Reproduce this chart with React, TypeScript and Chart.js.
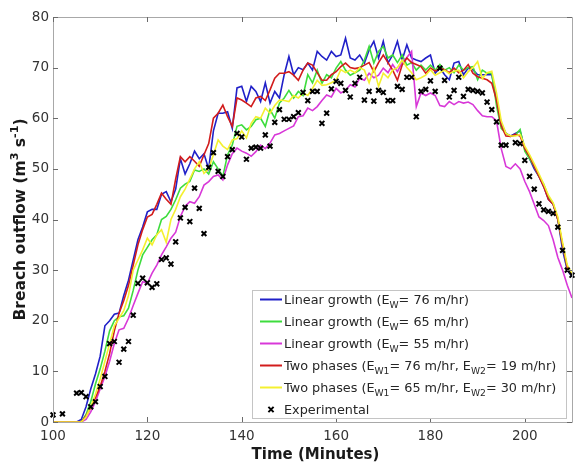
import React, { useEffect, useRef } from "react";
import { Chart, registerables } from "chart.js";
Chart.register(...registerables);

// time grid, minutes 100..210 (one sample per minute)
const times: number[] = Array.from({ length: 111 }, (_, i) => 100 + i);

const blueLinear76 = [
  0, 0, 0, 0, 0, 0, 0.5, 3, 6.5, 9.5,
  13, 19, 20, 21.3, 21.5, 25, 28, 32, 36, 38.5,
  41.5, 42, 42, 45, 45.5, 43.5, 46, 52, 49, 51,
  53.5, 52, 53, 50, 57.5, 61, 61, 61.3, 58, 66,
  66.3, 63.3, 66.3, 65.3, 63.3, 67, 63, 65.3, 64, 68.6,
  72.2, 68.6, 70, 69.6, 70.9, 69.5, 73.2, 72.2, 71.5, 73.2,
  72.2, 72.5, 75.8, 71.9, 71.5, 72.5, 70.9, 73.5, 75.2, 71.9,
  75.2, 70.9, 72.5, 75.2, 71.5, 74.5, 71.9, 71.5, 71.2, 71.9,
  72.5, 68.9, 69.9, 68.6, 67.6, 70.9, 71.2, 68.6, 69.9, 69.6,
  68.6, 68.6, 68.6, 68.6, 63.6, 59, 57, 56.5, 57, 57.5,
  54, 52, 50, 48.5, 46.5, 44, 43, 40, 34, 30, 28.7,
];

const greenLinear65 = [
  0, 0, 0, 0, 0, 0, 0, 1.5, 4, 7.5,
  10.5, 14, 18, 20, 20.8, 21, 22.5, 26, 30, 33,
  34.5, 36, 37, 40, 40.6, 42, 43.9, 46.2, 47, 47.5,
  49.8, 49.5, 50, 49, 51.4, 50, 48.5, 52.8, 54.7, 58.4,
  58.7, 57.7, 58.4, 59.7, 60, 58.4, 61.7, 60, 63, 64,
  65.5, 64, 65.3, 64.5, 68.6, 67, 69.5, 66.9, 68.6, 68,
  69.9, 71.2, 69.5, 68.5, 69, 69.5, 71.5, 74.2, 70.9, 73.2,
  74.2, 71.9, 72.5, 71, 72.5, 70.5, 71, 69.5, 70.5, 69.5,
  70.5, 69.5, 70.6, 69.5, 70, 69, 70.5, 69.5, 70, 70.2,
  67.6, 69.5, 68.9, 68.9, 62.5, 58, 57, 56.4, 56.7, 57.8,
  53.5, 52, 50.5, 48.5, 47, 44.5, 43.2, 40, 35, 30.5, 29,
];

const magentaLinear55 = [
  0, 0, 0, 0, 0, 0, 0, 0.5, 2, 4,
  6.5, 9, 12, 15.5, 18.2, 18.5, 20.5, 23, 25.4, 27.7,
  27.4, 29.4, 31, 33, 34.6, 36.3, 37.5, 40.6, 42.6, 43.5,
  43.2, 44.5, 46.8, 47.5, 48.5, 48.8, 47.8, 50.8, 53, 54.1,
  53.5, 53.1, 52.5, 53.4, 54.7, 54, 55.1, 56.7, 57, 57.5,
  58, 58.5, 60.3, 60.5, 62, 61.5, 62.3, 63.5, 64.6, 64.2,
  65.9, 65, 65.5, 66.6, 66.2, 67.9, 67.5, 68.9, 68, 68.5,
  69.9, 69, 70.6, 69.2, 71, 72, 73.2, 62.3, 65, 64.5,
  65, 64.5, 62.5, 62.3, 63.3, 62.7, 63.3, 63, 63.2, 62.7,
  61.5, 60.5, 60.3, 60.3, 59.5, 54, 50.5, 50, 51, 50,
  47.5, 45.5, 43, 40.5, 39.8, 38.8, 36, 32.5, 30, 27, 24.5,
];

const redTwoPhase76_19 = [
  0, 0, 0, 0, 0, 0, 0, 1.2, 2.8, 4.8,
  7, 10, 13.5, 18, 21.5, 24, 27, 31, 35, 38,
  40.5, 41, 43, 45.2, 44, 43, 48, 52.4, 51.4, 52.4,
  51.5, 50.5, 52.8, 55, 60, 61, 62.6, 60.3, 58.4, 64,
  63.6, 63, 62.3, 64, 64.3, 63.5, 65.6, 67.9, 68.9, 68.9,
  69.2, 68.5, 67.5, 69.5, 70.9, 70.5, 69, 67.5, 67.5, 68.6,
  69.2, 70.2, 70.9, 70, 69.8, 70, 70.5, 71, 69.2, 71,
  72.5, 71, 69.5, 67.5, 70.5, 71.9, 71, 70.6, 70.2, 68.9,
  69.9, 69.3, 69.9, 69.6, 69, 69.9, 69, 69.5, 70.6, 68.9,
  68.2, 67.9, 67.6, 66.9, 63.6, 58.5, 56.5, 56.4, 56.8, 56.5,
  54, 52.5, 50.5, 48.5, 46.5, 44, 43, 40, 35, 30.5, 29,
];

const yellowTwoPhase65_30 = [
  0, 0, 0, 0, 0, 0, 0, 1, 3, 5.5,
  8.5, 12, 15.5, 19, 20.5, 22, 25, 30, 32, 34,
  36.3, 35, 37, 38, 35.5, 40, 42, 44.5, 46, 48,
  50, 51.4, 49.1, 50, 52.8, 55.7, 54.5, 53.8, 55.7, 56,
  57.5, 56.1, 59, 60.3, 60, 62, 61, 62.5, 63.6, 63.5,
  63.3, 64.5, 64, 65, 64.5, 65.9, 67.5, 66.5, 66.6, 67,
  67.5, 69.6, 69, 69.5, 69, 70, 69.5, 67, 69.9, 66.3,
  68.9, 68, 69.5, 70, 71.5, 70, 69, 67.6, 68, 68.5,
  69.6, 68.5, 69, 69.5, 68.8, 69.3, 69.5, 68, 69.2, 70,
  71.2, 67.8, 69, 69.3, 65, 59.5, 57, 56.5, 56.5, 56.8,
  54.5, 52.8, 51, 49, 47, 44.8, 43.3, 40.5, 35.5, 31, 29.3,
];

const expTimes = [
  100, 102, 105, 106, 107, 108, 109, 110, 111, 112, 113, 114, 115, 116, 117, 118, 119, 120,
  121, 122, 123, 124, 125, 126, 127, 128, 129, 130, 131, 132, 133, 134, 135, 136, 137, 138,
  139, 140, 141, 142, 143, 144, 145, 146, 147, 148, 149, 150, 151, 152, 153, 154, 155, 156,
  157, 158, 159, 160, 161, 162, 163, 164, 165, 166, 167, 168, 169, 170, 171, 172, 173, 174,
  175, 176, 177, 178, 179, 180, 181, 182, 183, 184, 185, 186, 187, 188, 189, 190, 191, 192,
  193, 194, 195, 196, 198, 199, 200, 201, 202, 203, 204, 205, 206, 207, 208, 209, 210,
];
const expFlow = [
  1.4, 1.6, 5.7, 5.8, 5.0, 3.0, 4.0, 7.0, 9.0, 15.5, 15.9, 11.8, 14.4, 15.9, 21.1, 27.4, 28.4, 27.5,
  26.6, 27.3, 32.1, 32.4, 31.2, 35.6, 40.3, 42.4, 39.6, 46.2, 42.2, 37.2, 50.3, 53.2, 49.5, 48.5, 52.4, 53.8,
  57.0, 56.3, 51.9, 54.1, 54.3, 54.1, 56.7, 54.5, 59.2, 61.7, 59.8, 59.8, 60.3, 61.1, 65.1, 63.5, 65.3, 65.3,
  59.0, 61.0, 65.8, 67.3, 66.9, 65.5, 64.2, 66.9, 68.1, 63.6, 65.3, 63.4, 65.5, 65.1, 63.5, 63.5, 66.3, 65.7,
  68.1, 68.1, 60.3, 65.3, 65.7, 67.4, 65.3, 69.9, 67.5, 64.2, 65.5, 68.1, 64.3, 65.7, 65.5, 65.3, 65.0, 63.2,
  61.7, 59.3, 54.7, 54.7, 55.2, 55.0, 51.7, 48.5, 46.0, 43.1, 41.9, 41.6, 41.2, 38.5, 33.9, 30.0, 29.0,
];

const xTicks = [100, 120, 140, 160, 180, 200];
const yTicks = [0, 10, 20, 30, 40, 50, 60, 70, 80];

const seriesLabels = [
  "Linear growth (E_{W}= 76 m/hr)",
  "Linear growth (E_{W}= 65 m/hr)",
  "Linear growth (E_{W}= 55 m/hr)",
  "Two phases (E_{W1}= 76 m/hr, E_{W2}= 19 m/hr)",
  "Two phases (E_{W1}= 65 m/hr, E_{W2}= 30 m/hr)",
];
const expLabel = "Experimental";
const seriesColors = ["#2020c8", "#3ddc3d", "#d838d8", "#d21c1c", "#f4f030"];
const xTitle = "Time (Minutes)";
const yTitle = "Breach outflow (m^{3} s^{-1})";

type Seg = { text: string; mode: "n" | "sub" | "sup" };
function parseSegs(s: string): Seg[] {
  const out: Seg[] = [];
  const re = /([_^])\{([^}]*)\}/g;
  let last = 0;
  let m: RegExpExecArray | null;
  while ((m = re.exec(s))) {
    if (m.index > last) out.push({ text: s.slice(last, m.index), mode: "n" });
    out.push({ text: m[2], mode: m[1] === "_" ? "sub" : "sup" });
    last = m.index + m[0].length;
  }
  if (last < s.length) out.push({ text: s.slice(last), mode: "n" });
  return out;
}

const FONT = '"DejaVu Sans", sans-serif';

function drawRich(
  ctx: CanvasRenderingContext2D,
  s: string,
  x: number,
  y: number,
  size: number,
  weight: string,
  align: "left" | "center"
) {
  const segs = parseSegs(s);
  const small = size * 0.72;
  const fontOf = (seg: Seg) => `${weight} ${seg.mode === "n" ? size : small}px ${FONT}`;
  let total = 0;
  for (const seg of segs) {
    ctx.font = fontOf(seg);
    total += ctx.measureText(seg.text).width;
  }
  let cx = align === "center" ? x - total / 2 : x;
  ctx.textBaseline = "alphabetic";
  ctx.textAlign = "left";
  const base = y + size * 0.36;
  for (const seg of segs) {
    ctx.font = fontOf(seg);
    let dy = 0;
    if (seg.mode === "sub") dy = size * 0.3;
    if (seg.mode === "sup") dy = -size * 0.42;
    ctx.fillText(seg.text, cx, base + dy);
    cx += ctx.measureText(seg.text).width;
  }
}

const decorPlugin = {
  id: "decor",
  afterDraw(chart: any) {
    const ctx: CanvasRenderingContext2D = chart.ctx;
    const { left, right, top, bottom } = chart.chartArea;
    const xs = chart.scales.x;
    const ys = chart.scales.y;
    ctx.save();
    // frame
    ctx.strokeStyle = "#a8a8a8";
    ctx.lineWidth = 1;
    ctx.beginPath();
    ctx.rect(Math.round(left) + 0.5, Math.round(top) + 0.5, Math.round(right - left), Math.round(bottom - top));
    ctx.stroke();
    // inward ticks
    ctx.strokeStyle = "#6a6a6a";
    ctx.beginPath();
    const tl = 5;
    for (const v of xTicks) {
      const px = Math.round(xs.getPixelForValue(v)) + 0.5;
      ctx.moveTo(px, bottom);
      ctx.lineTo(px, bottom - tl);
      ctx.moveTo(px, top);
      ctx.lineTo(px, top + tl);
    }
    for (const v of yTicks) {
      const py = Math.round(ys.getPixelForValue(v)) + 0.5;
      ctx.moveTo(left, py);
      ctx.lineTo(left + tl, py);
      ctx.moveTo(right, py);
      ctx.lineTo(right - tl, py);
    }
    ctx.stroke();

    // axis titles
    ctx.fillStyle = "#1a1a1a";
    drawRich(ctx, xTitle, (left + right) / 2 + 3, 454, 15, "bold", "center");
    ctx.save();
    ctx.translate(19, (top + bottom) / 2);
    ctx.rotate(-Math.PI / 2);
    drawRich(ctx, yTitle, 0, 0, 15.5, "bold", "center");
    ctx.restore();

    // legend
    const lx = 252, ly = 290, lw = 314, lh = 128;
    ctx.fillStyle = "#ffffff";
    ctx.fillRect(lx, ly, lw, lh);
    ctx.strokeStyle = "#c4c4c4";
    ctx.strokeRect(lx + 0.5, ly + 0.5, lw, lh);
    const rowH = 22;
    const firstY = 299.5;
    seriesLabels.forEach((lab, i) => {
      const yy = firstY + i * rowH;
      ctx.strokeStyle = seriesColors[i];
      ctx.lineWidth = 2;
      ctx.beginPath();
      ctx.moveTo(260, yy);
      ctx.lineTo(282, yy);
      ctx.stroke();
      ctx.fillStyle = "#262626";
      drawRich(ctx, lab, 284, yy, 12.8, "normal", "left");
    });
    const ey = firstY + 5 * rowH;
    ctx.strokeStyle = "#000000";
    ctx.lineWidth = 2;
    ctx.beginPath();
    const r = 2.6;
    ctx.moveTo(271 - r, ey - r);
    ctx.lineTo(271 + r, ey + r);
    ctx.moveTo(271 + r, ey - r);
    ctx.lineTo(271 - r, ey + r);
    ctx.stroke();
    ctx.fillStyle = "#262626";
    drawRich(ctx, expLabel, 284, ey, 12.8, "normal", "left");
    ctx.restore();
  },
};

export default function App() {
  const ref = useRef<HTMLCanvasElement | null>(null);
  useEffect(() => {
    if (!ref.current) return;
    const lineSets = [blueLinear76, greenLinear65, magentaLinear55, redTwoPhase76_19, yellowTwoPhase65_30];
    const datasets: any[] = lineSets.map((vals, i) => ({
      type: "line",
      label: seriesLabels[i],
      data: times.map((t, k) => ({ x: t, y: vals[k] })),
      borderColor: seriesColors[i],
      backgroundColor: seriesColors[i],
      borderWidth: 1.6,
      pointRadius: 0,
      tension: 0,
      fill: false,
      order: 5 - i,
    }));
    datasets.push({
      type: "scatter",
      label: expLabel,
      data: expTimes.map((t, k) => ({ x: t, y: expFlow[k] })),
      borderColor: "#000000",
      backgroundColor: "#000000",
      pointStyle: "crossRot",
      pointRadius: 3.4,
      borderWidth: 2,
      showLine: false,
      order: 0,
    });
    const chart = new Chart(ref.current, {
      type: "line",
      data: { datasets },
      options: {
        animation: false,
        responsive: false,
        clip: false as any,
        layout: { padding: { top: 17, right: 2.5, left: 0, bottom: 0 } },
        plugins: { legend: { display: false }, tooltip: { enabled: false } },
        scales: {
          x: {
            type: "linear",
            min: 100,
            max: 210,
            grid: { display: false, drawTicks: false },
            border: { display: false },
            ticks: { color: "#333333", font: { size: 13.5, family: FONT }, padding: 6, maxRotation: 0 },
            afterBuildTicks: (s: any) => {
              s.ticks = xTicks.map((v) => ({ value: v }));
            },
            afterFit: (s: any) => {
              s.height = 42;
            },
          },
          y: {
            type: "linear",
            min: 0,
            max: 80,
            grid: { display: false, drawTicks: false },
            border: { display: false },
            ticks: { color: "#333333", font: { size: 13.5, family: FONT }, padding: 4 },
            afterBuildTicks: (s: any) => {
              s.ticks = yTicks.map((v) => ({ value: v }));
            },
            afterFit: (s: any) => {
              s.width = 53;
            },
          },
        },
      },
      plugins: [decorPlugin],
    });
    return () => chart.destroy();
  }, []);
  return (
    <div style={{ position: "absolute", left: 0, top: 0, width: 578, height: 464, background: "#fff" }}>
      <canvas ref={ref} width={578} height={464} style={{ display: "block" }} />
    </div>
  );
}
